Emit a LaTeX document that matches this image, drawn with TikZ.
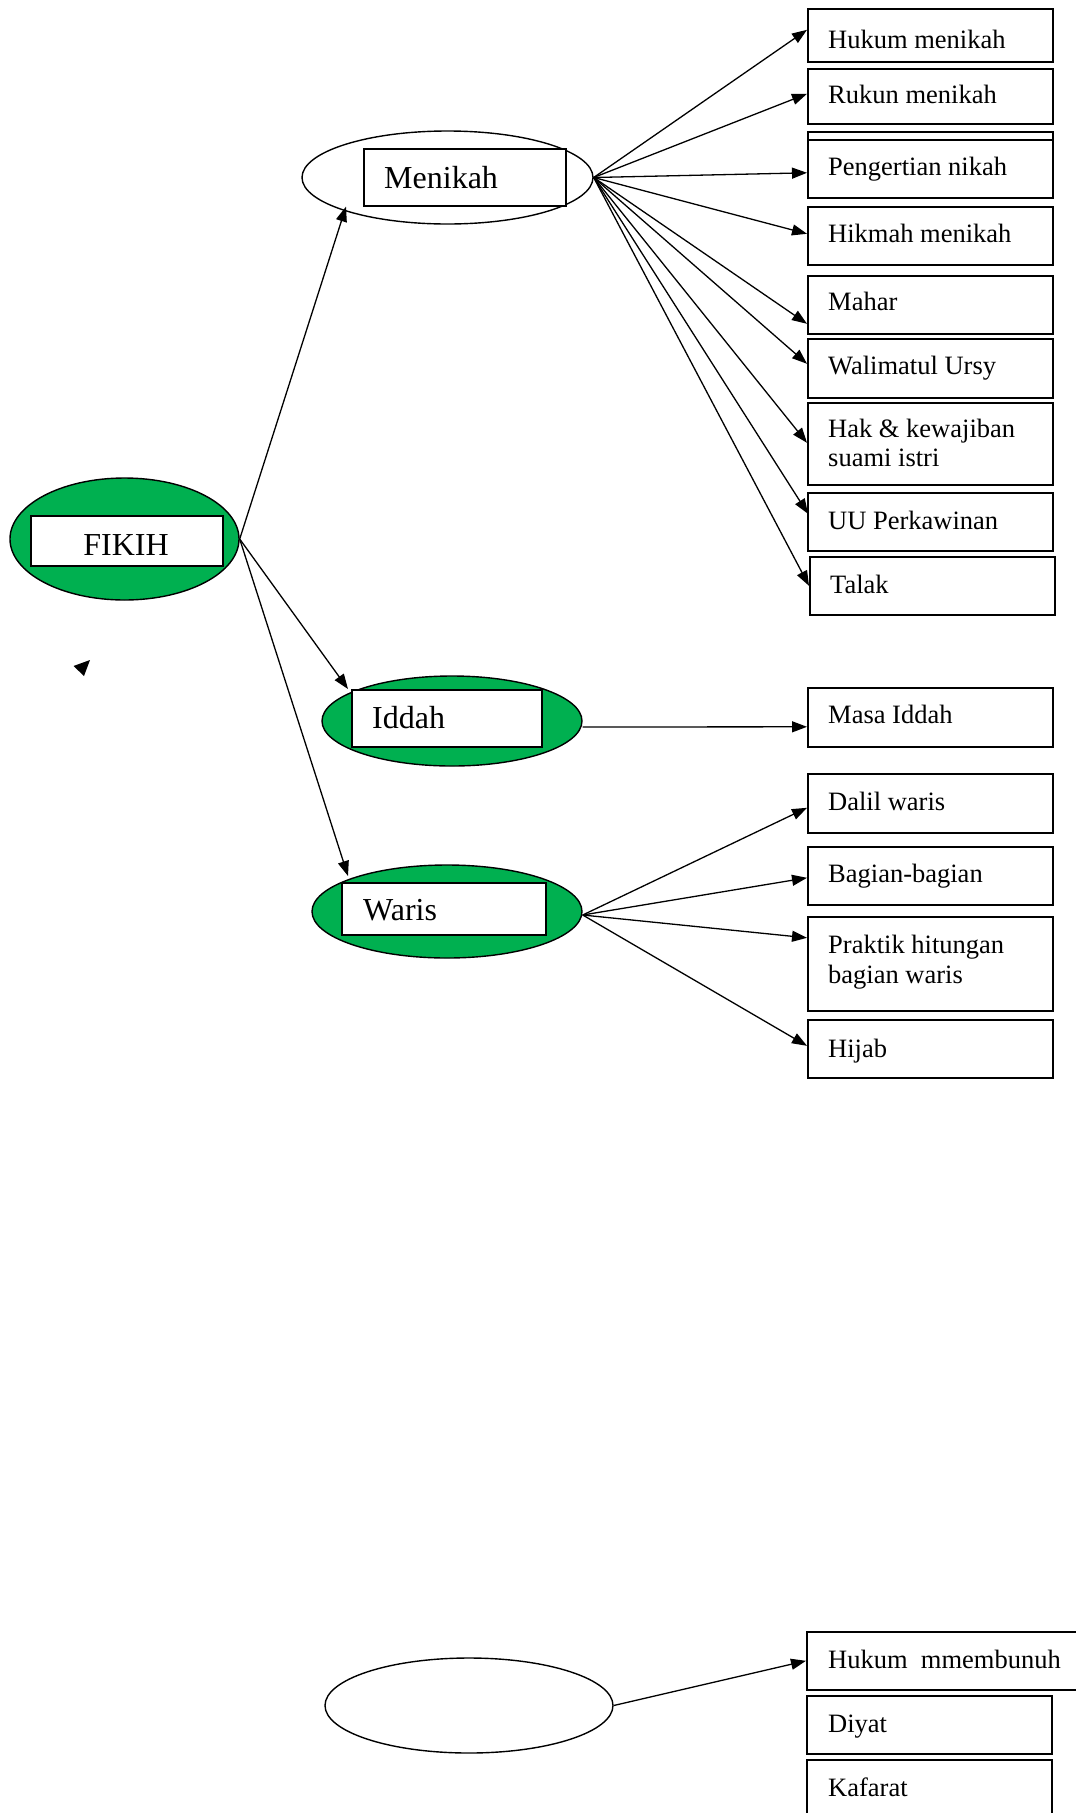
\documentclass[tikz,border=0pt]{standalone}
\usepackage{fontspec}
\setmainfont{Liberation Serif}
\usetikzlibrary{shapes.geometric,arrows.meta}
\definecolor{wgreen}{RGB}{0,176,80}
\begin{document}
\begin{tikzpicture}[x=1pt,y=-1pt,
  box/.style={draw, line width=1.6pt, fill=white, rectangle, anchor=north west, inner sep=0pt},
  lbl/.style={anchor=base west, inner sep=0pt, font=\fontsize{26.5}{30}\selectfont},
  big/.style={anchor=base west, inner sep=0pt, font=\fontsize{32}{38}\selectfont},
  oval/.style={ellipse, draw, line width=1.4pt, inner sep=0pt},
  arr/.style={-{Triangle[length=15pt,width=11pt]}, line width=1.3pt}]
\useasboundingbox (0,0) rectangle (1076,1813);
\fill[white] (0,0) rectangle (1076,1813);

% ovals
\node[oval, fill=wgreen, minimum width=229pt, minimum height=122pt] (fikih) at (124.5,539) {};
\node[box, minimum width=192pt, minimum height=50pt] (fikihBox) at (30,515) {};
\node[big, anchor=base] (fikihT) at (126,555) {FIKIH};

\node[oval, fill=white, minimum width=291pt, minimum height=93pt] (menikah) at (447.5,177.5) {};
\node[box, minimum width=202pt, minimum height=57pt] (menBox) at (363,148) {};
\node[big] (menT) at (384,188) {Menikah};

\node[oval, fill=wgreen, minimum width=260pt, minimum height=90pt] (iddah) at (452,721) {};
\node[box, minimum width=190pt, minimum height=57pt] (iddBox) at (351,689) {};
\node[big] (iddT) at (372,728) {Iddah};

\node[oval, fill=wgreen, minimum width=270pt, minimum height=93pt] (waris) at (447,911.5) {};
\node[box, minimum width=204pt, minimum height=52pt] (warBox) at (341,882) {};
\node[big] (warT) at (363,920) {Waris};

\node[oval, fill=white, minimum width=288pt, minimum height=95pt] (bunuh) at (469,1705.5) {};

% stray arrow head
\fill[black] (73.5,666) -- (90,660) -- (84,676) -- cycle;

% right boxes: menikah
\node[box, minimum width=245pt, minimum height=53pt] (hukum) at (807,8) {};
\node[lbl] at (828,48) {Hukum menikah};
\node[box, minimum width=245pt, minimum height=55pt] (rukun) at (807,68) {};
\node[lbl] at (828,103) {Rukun menikah};
\node[box, minimum width=245pt, minimum height=58pt] (pengBack) at (807,131) {};
\node[box, minimum width=245pt, minimum height=58pt] (peng) at (807,139) {};
\node[lbl] at (828,175) {Pengertian nikah};
\node[box, minimum width=245pt, minimum height=58pt] (hikmah) at (807,206) {};
\node[lbl] at (828,242) {Hikmah menikah};
\node[box, minimum width=245pt, minimum height=58pt] (mahar) at (807,275) {};
\node[lbl] at (828,310) {Mahar};
\node[box, minimum width=245pt, minimum height=59pt] (wali) at (807,338) {};
\node[lbl] at (828,374) {Walimatul Ursy};
\node[box, minimum width=245pt, minimum height=82pt] (hak) at (807,402) {};
\node[lbl] at (828,437) {Hak \& kewajiban};
\node[lbl] at (828,466) {suami istri};
\node[box, minimum width=245pt, minimum height=58pt] (uu) at (807,492) {};
\node[lbl] at (828,529) {UU Perkawinan};
\node[box, minimum width=245pt, minimum height=58pt] (talak) at (809,556) {};
\node[lbl] at (830,593) {Talak};

% iddah
\node[box, minimum width=245pt, minimum height=59pt] (masa) at (807,687) {};
\node[lbl] at (828,723) {Masa Iddah};

% waris
\node[box, minimum width=245pt, minimum height=59pt] (dalil) at (807,773) {};
\node[lbl] at (828,810) {Dalil waris};
\node[box, minimum width=245pt, minimum height=58pt] (bagian) at (807,846) {};
\node[lbl] at (828,882) {Bagian-bagian};
\node[box, minimum width=245pt, minimum height=94pt] (praktik) at (807,916) {};
\node[lbl] at (828,953) {Praktik hitungan};
\node[lbl] at (828,983) {bagian waris};
\node[box, minimum width=245pt, minimum height=58pt] (hijab) at (807,1019) {};
\node[lbl] at (828,1057) {Hijab};

% bottom group
\node[box, minimum width=280pt, minimum height=58pt] (hukumb) at (806,1631) {};
\node[lbl] at (828,1668) {Hukum\ \ mmembunuh};
\node[box, minimum width=245pt, minimum height=58pt] (diyat) at (806,1695) {};
\node[lbl] at (828,1732) {Diyat};
\node[box, minimum width=245pt, minimum height=70pt] (kafarat) at (806,1759) {};
\node[lbl] at (828,1796) {Kafarat};

% connectors
\draw[arr] (fikih.east) -- ([xshift=-17pt]menBox.south west);
\draw[arr] (fikih.east) -- ([xshift=-3pt]iddBox.north west);
\draw[arr] (fikih.east) -- ([xshift=7pt,yshift=6pt]warBox.north west);

\draw[arr] (menikah.east) -- ([yshift=5.5pt]hukum.west);
\draw[arr] (menikah.east) -- ([yshift=2.5pt]rukun.west);
\draw[arr] (menikah.east) -- ([yshift=-4pt]peng.west);
\draw[arr] (menikah.east) -- ([yshift=2pt]hikmah.west);
\draw[arr] (menikah.east) -- ([yshift=-19pt]mahar.west);
\draw[arr] (menikah.east) -- ([yshift=4.5pt]wali.west);
\draw[arr] (menikah.east) -- ([yshift=1pt]hak.west);
\draw[arr] (menikah.east) -- ([xshift=1pt,yshift=8pt]uu.west);
\draw[arr] (menikah.east) -- (talak.west);

\draw[arr] ([yshift=-6pt]iddah.east) -- ([yshift=-9.5pt]masa.west);

\draw[arr] ([yshift=-3.5pt]waris.east) -- ([yshift=-4.5pt]dalil.west);
\draw[arr] ([yshift=-3.5pt]waris.east) -- ([yshift=-2pt]bagian.west);
\draw[arr] ([yshift=-3.5pt]waris.east) -- ([yshift=26pt]praktik.west);
\draw[arr] ([yshift=-3.5pt]waris.east) -- ([yshift=3pt]hijab.west);

\draw[arr] (bunuh.east) -- (hukumb.west);
\end{tikzpicture}
\end{document}
